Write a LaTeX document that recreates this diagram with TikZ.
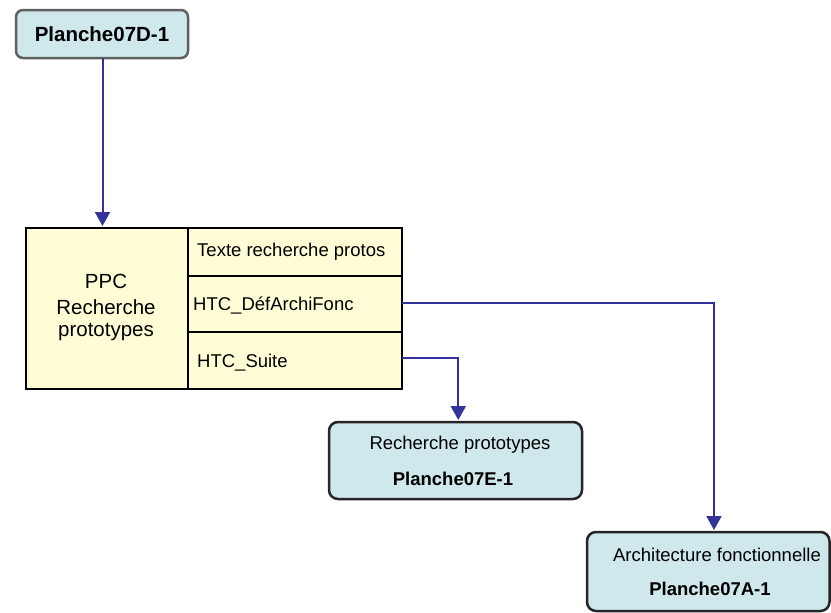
\documentclass[tikz,border=0pt]{standalone}
\usepackage{fontspec}
\setmainfont{Liberation Sans}
\usetikzlibrary{arrows.meta}
\definecolor{boxcyan}{HTML}{CFE8EB}
\definecolor{tabyellow}{HTML}{FFFDD5}
\definecolor{linkblue}{HTML}{333399}
\definecolor{topgray}{HTML}{606060}
\begin{document}
\begin{tikzpicture}[x=1pt,y=-1pt,
  every node/.style={font=\fontsize{18.5}{22}\selectfont, inner sep=0pt},
  boldtxt/.style={font=\bfseries\fontsize{18.5}{22}\selectfont},
  bigtxt/.style={font=\fontsize{20.5}{24}\selectfont},
  link/.style={draw=linkblue, line width=2pt, -{Triangle[width=15pt,length=14pt]}, shorten >=2pt},
  roundbox/.style={draw=black!85, line width=2.5pt, fill=boxcyan, rounded corners=9pt},
  tabline/.style={draw=black, line width=2.5pt}]
\useasboundingbox (0,0) rectangle (831,613);
% top box
\draw[draw=topgray, line width=2.5pt, fill=boxcyan, rounded corners=7pt] (16,10) rectangle (188,58);
\node[font=\bfseries\fontsize{20.5}{24}\selectfont] (top) at (102,34) {Planche07D-1};
\coordinate (topb) at (102.5,58);
% table
\fill[tabyellow] (26,228) rectangle (402,389);
\draw[tabline] (188,228) -- (188,389);
\draw[tabline] (188,276) -- (402,276);
\draw[tabline] (188,332) -- (402,332);
\draw[tabline] (26,228) rectangle (402,389);
\coordinate (tabtop) at (102.5,228);
\node[bigtxt] (ppc) at (106,281) {PPC};
\node[bigtxt] (rech) at (106,307) {Recherche};
\node[bigtxt] (proto) at (106,332) {prototypes};
\node[anchor=west] (t1) at (197,252) {Texte recherche protos};
\node[anchor=west] (t2) at (193,306) {HTC\_DéfArchiFonc};
\node[anchor=west] (t3) at (197,363) {HTC\_Suite};
\coordinate (p2) at (402,302.7);
\coordinate (p3) at (402,357.7);
% box E
\draw[roundbox] (329,422) rectangle (582,499);
\node (e1) at (460,445) {Recherche prototypes};
\node[boldtxt] (e2) at (453,479) {Planche07E-1};
\coordinate (etop) at (458.3,422);
% box A
\draw[roundbox] (587,532) rectangle (829.5,611);
\node (a1) at (717,555) {Architecture fonctionnelle};
\node[boldtxt] (a2) at (710,589) {Planche07A-1};
\coordinate (atop) at (714,532);
% connectors
\draw[link] (topb) -- (tabtop);
\draw[link] (p2) -| (atop);
\draw[link] (p3) -| (etop);
\end{tikzpicture}
\end{document}
